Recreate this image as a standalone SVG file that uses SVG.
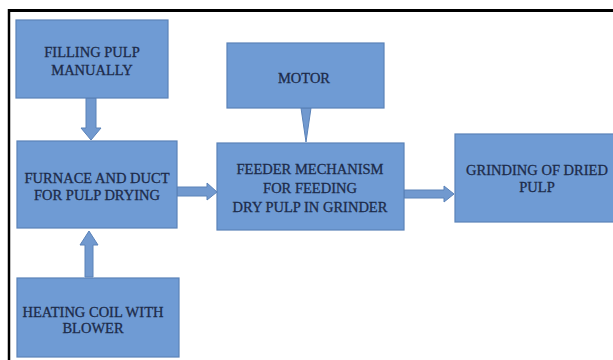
<svg xmlns="http://www.w3.org/2000/svg" width="613" height="360" viewBox="0 0 613 360">
  <style>
    .box { fill: #6f9bd4; stroke: #5a82b8; stroke-width: 1.2; }
    .arrow { fill: #7199cf; stroke: #5a82b8; stroke-width: 1; }
    .lbl { font-family: "Liberation Serif", "Times New Roman", serif; font-size: 14.5px; fill: #1d2b4a; stroke: #1d2b4a; stroke-width: 0.3; text-anchor: middle; }
  </style>
  <rect x="0" y="0" width="613" height="360" fill="#ffffff"/>
  <g id="frame">
    <line x1="8" y1="10.5" x2="613" y2="10.5" stroke="#000" stroke-width="3"/>
    <line x1="9" y1="9" x2="9" y2="360" stroke="#000" stroke-width="2.5"/>
  </g>
  <g id="connectors">
    <polygon class="arrow" points="86,98 96,98 96,128 101,128 91,140 81,128 86,128"/>
    <polygon class="arrow" points="85,277 93,277 93,245 98,245 89,231 80,245 85,245"/>
    <polygon class="arrow" points="301,108 311,108 306,142"/>
    <polygon class="arrow" points="177,187 207,187 207,183 217,192 207,200 207,196 177,196"/>
    <polygon class="arrow" points="404,190 444,190 444,186 454,194 444,202 444,198 404,198"/>
  </g>
  <g id="filling">
    <rect class="box" x="16" y="20" width="152" height="78"/>
    <text class="lbl" x="92" y="57">FILLING PULP</text>
    <text class="lbl" x="92" y="75">MANUALLY</text>
  </g>
  <g id="motor">
    <rect class="box" x="227" y="43" width="157" height="65"/>
    <text class="lbl" x="304" y="83">MOTOR</text>
  </g>
  <g id="furnace">
    <rect class="box" x="17" y="141" width="160" height="87"/>
    <text class="lbl" x="97" y="183">FURNACE AND DUCT</text>
    <text class="lbl" x="97" y="200">FOR PULP DRYING</text>
  </g>
  <g id="feeder">
    <rect class="box" x="217" y="143" width="187" height="87"/>
    <text class="lbl" x="310" y="174">FEEDER MECHANISM</text>
    <text class="lbl" x="310" y="193">FOR FEEDING</text>
    <text class="lbl" x="310" y="212">DRY PULP IN GRINDER</text>
  </g>
  <g id="grinding">
    <rect class="box" x="455" y="134" width="170" height="88"/>
    <text class="lbl" x="537" y="175">GRINDING OF DRIED</text>
    <text class="lbl" x="537" y="192">PULP</text>
  </g>
  <g id="heating">
    <rect class="box" x="17" y="278" width="162" height="79"/>
    <text class="lbl" x="93" y="317">HEATING COIL WITH</text>
    <text class="lbl" x="93" y="333">BLOWER</text>
  </g>
</svg>
